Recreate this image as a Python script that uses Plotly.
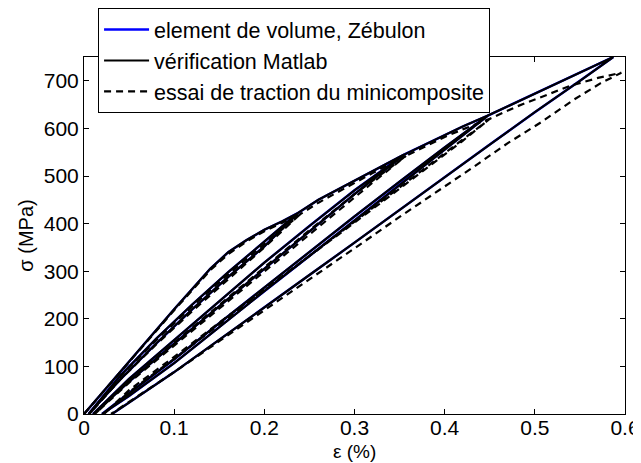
import plotly.graph_objects as go

# ---------- model (Zébulon / Matlab) : strain (%) and stress (MPa) per segment ----------
mod_load1_eps = [0, 0.05, 0.10, 0.14, 0.16, 0.18, 0.20, 0.22, 0.237]
mod_load1_sig = [0, 110, 220, 305, 340, 365, 387, 405, 422]
mod_unl1_eps = [0.20, 0.16, 0.12, 0.08, 0.04, 0.005]
mod_unl1_sig = [352, 288, 220, 148, 72, 0]
mod_rel1_eps = [0.04, 0.08, 0.12, 0.16, 0.20, 0.237]
mod_rel1_sig = [80, 158, 230, 298, 362, 422]
mod_load2_eps = [0.26, 0.28, 0.30, 0.32, 0.34, 0.355]
mod_load2_sig = [450, 470, 490, 510, 530, 545]
mod_unl2_eps = [0.30, 0.25, 0.20, 0.15, 0.10, 0.05, 0.01]
mod_unl2_sig = [462, 384, 306, 228, 148, 68, 0]
mod_rel2_eps = [0.05, 0.10, 0.15, 0.20, 0.25, 0.30, 0.355]
mod_rel2_sig = [74, 156, 238, 318, 395, 470, 545]
mod_load3_eps = [0.38, 0.40, 0.42, 0.448]
mod_load3_sig = [568, 586, 604, 627]
mod_unl3_eps = [0.40, 0.35, 0.30, 0.25, 0.20, 0.15, 0.10, 0.05, 0.02]
mod_unl3_sig = [555, 480, 406, 332, 258, 183, 107, 38, 0]
mod_rel3_eps = [0.05, 0.10, 0.15, 0.20, 0.25, 0.30, 0.35, 0.40, 0.448]
mod_rel3_sig = [44, 115, 191, 266, 341, 415, 488, 560, 627]
mod_load4_eps = [0.48, 0.51, 0.54, 0.56, 0.587]
mod_load4_sig = [655, 682, 708, 725, 750]
mod_unl4_eps = [0.55, 0.50, 0.45, 0.40, 0.35, 0.30, 0.25, 0.20, 0.15, 0.10, 0.05, 0.031]
mod_unl4_sig = [700, 634, 566, 497, 428, 360, 292, 224, 156, 88, 24, 0]

# ---------- experiment (tensile test on minicomposite) ----------
exp_load1_eps = [0, 0.05, 0.10, 0.14, 0.16, 0.18, 0.20, 0.22, 0.24]
exp_load1_sig = [0, 108, 218, 302, 336, 362, 384, 402, 420]
exp_unl1_eps = [0.20, 0.16, 0.12, 0.08, 0.04, 0.006]
exp_unl1_sig = [350, 284, 216, 146, 72, 0]
exp_rel1_eps = [0.04, 0.08, 0.12, 0.16, 0.20, 0.24]
exp_rel1_sig = [78, 155, 226, 294, 358, 420]
exp_load2_eps = [0.26, 0.28, 0.30, 0.32, 0.34, 0.357]
exp_load2_sig = [444, 465, 486, 506, 526, 542]
exp_unl2_eps = [0.32, 0.28, 0.24, 0.20, 0.15, 0.10, 0.05, 0.012]
exp_unl2_sig = [486, 424, 362, 300, 222, 144, 66, 0]
exp_rel2_eps = [0.05, 0.10, 0.15, 0.20, 0.25, 0.30, 0.357]
exp_rel2_sig = [70, 150, 230, 308, 386, 462, 542]
exp_load3_eps = [0.38, 0.40, 0.42, 0.45]
exp_load3_sig = [564, 582, 598, 620]
exp_unl3_eps = [0.42, 0.38, 0.34, 0.30, 0.25, 0.20, 0.15, 0.10, 0.05, 0.022]
exp_unl3_sig = [574, 516, 459, 402, 332, 262, 192, 120, 50, 0]
exp_rel3_eps = [0.05, 0.10, 0.15, 0.20, 0.25, 0.30, 0.35, 0.40, 0.45]
exp_rel3_sig = [46, 116, 188, 260, 332, 404, 476, 548, 620]
exp_load4_eps = [0.48, 0.51, 0.54, 0.57, 0.596]
exp_load4_sig = [646, 668, 690, 706, 717]
exp_unl4_eps = [0.573, 0.543, 0.507, 0.47, 0.432, 0.40, 0.35, 0.30, 0.25, 0.20, 0.15, 0.10, 0.06, 0.03]
exp_unl4_sig = [695, 660, 613, 569, 519, 478, 414, 348, 283, 218, 153, 88, 38, 0]

x_ticks = [0, 0.1, 0.2, 0.3, 0.4, 0.5, 0.6]
x_tick_labels = ["0", "0.1", "0.2", "0.3", "0.4", "0.5", "0.6"]
y_ticks = [0, 100, 200, 300, 400, 500, 600, 700]
y_tick_labels = ["0", "100", "200", "300", "400", "500", "600", "700"]

names = ["element de volume, Zébulon", "vérification Matlab", "essai de traction du minicomposite"]
x_title = "ε (%)"
y_title = "σ (MPa)"

mod_eps = (mod_load1_eps + mod_unl1_eps + mod_rel1_eps + mod_load2_eps + mod_unl2_eps + mod_rel2_eps
           + mod_load3_eps + mod_unl3_eps + mod_rel3_eps + mod_load4_eps + mod_unl4_eps)
mod_sig = (mod_load1_sig + mod_unl1_sig + mod_rel1_sig + mod_load2_sig + mod_unl2_sig + mod_rel2_sig
           + mod_load3_sig + mod_unl3_sig + mod_rel3_sig + mod_load4_sig + mod_unl4_sig)
exp_eps = (exp_load1_eps + exp_unl1_eps + exp_rel1_eps + exp_load2_eps + exp_unl2_eps + exp_rel2_eps
           + exp_load3_eps + exp_unl3_eps + exp_rel3_eps + exp_load4_eps + exp_unl4_eps)
exp_sig = (exp_load1_sig + exp_unl1_sig + exp_rel1_sig + exp_load2_sig + exp_unl2_sig + exp_rel2_sig
           + exp_load3_sig + exp_unl3_sig + exp_rel3_sig + exp_load4_sig + exp_unl4_sig)

FONT = "Liberation Sans, Arial, Helvetica, sans-serif"

fig = go.Figure()
fig.add_trace(go.Scatter(x=mod_eps, y=mod_sig, mode="lines", name=names[0], legendgroup="a",
                         line=dict(color="#0000ff", width=2.4)))
fig.add_trace(go.Scatter(x=mod_eps, y=mod_sig, mode="lines", name=names[1], legendgroup="b",
                         line=dict(color="#000000", width=2.2)))
fig.add_trace(go.Scatter(x=exp_eps, y=exp_sig, mode="lines", name=names[2], legendgroup="c",
                         line=dict(color="#000000", width=2.2, dash="7px,5px")))

axis_common = dict(showline=True, linecolor="black", linewidth=1, mirror="ticks",
                   ticks="inside", ticklen=5, tickcolor="black", showgrid=False, zeroline=False,
                   automargin=False,
                   tickfont=dict(family=FONT, size=21, color="black"))

# the page body adds an 8 px offset, margins compensate for it
fig.update_layout(
    width=641, height=463,
    margin=dict(l=76, r=24, t=49, b=57, autoexpand=False),
    paper_bgcolor="white", plot_bgcolor="white",
    font=dict(family=FONT, size=21, color="black"),
    xaxis=dict(range=[0, 0.6], tickvals=x_ticks, ticktext=x_tick_labels,
               ticklabelstandoff=-5, **axis_common),
    yaxis=dict(range=[0, 750], tickvals=y_ticks, ticktext=y_tick_labels,
               title=dict(text=y_title, font=dict(size=20), standoff=4), **axis_common),
    legend=dict(x=0.026, y=1.137, xanchor="left", yanchor="top", bgcolor="white",
                bordercolor="black", borderwidth=1, font=dict(family=FONT, size=21.5),
                itemwidth=45, tracegroupgap=2, traceorder="normal"),
    annotations=[dict(text=x_title, xref="paper", yref="paper", x=0.5, y=-0.104,
                      xanchor="center", yanchor="middle", showarrow=False,
                      font=dict(family=FONT, size=19, color="black"))],
)

fig.write_html("out.html")
